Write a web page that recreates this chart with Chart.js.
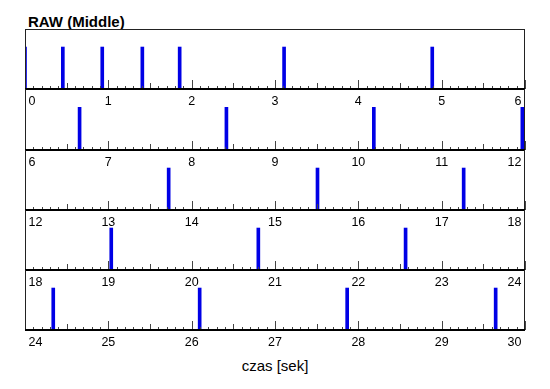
<!DOCTYPE html>
<html>
<head>
<meta charset="utf-8">
<script src="https://cdn.jsdelivr.net/npm/chart.js@4"></script>
<style>
  body { margin: 0; background: #fff; }
  #wrap { position: relative; width: 550px; height: 389px; }
  canvas { position: absolute; left: 0; }
  .txt { position: absolute; font-family: 'Liberation Sans', Arial, sans-serif; color: #000; white-space: nowrap; }
</style>
</head>
<body>
<div id="wrap">
  <div class="txt" style="left:28px;top:14px;font-size:15px;line-height:15px;font-weight:bold;">RAW (Middle)</div>
  <div class="txt" style="left:0;width:550px;top:358px;font-size:15px;line-height:15px;text-align:center;">czas [sek]</div>
</div>
<script>
// each row shows 6 seconds of the recording
const panelStarts = [0, 6, 12, 18, 24];
const panelSpan = 6;
// detected beats (seconds)
const beatTimes = [0.0, 0.454, 0.927, 1.408, 1.856, 3.109, 4.887,
                   6.655, 8.417, 10.186, 11.968,
                   13.724, 15.51, 17.264,
                   19.035, 20.80, 22.567,
                   24.339, 26.096, 27.866, 29.648];
const beatValue = 1;

// panel boxes in page pixels (top, bottom)
const panelTops = [29, 89, 150, 210, 270];
const panelBottoms = [89, 150, 210, 270, 330];

const framePlugin = {
  id: 'frame',
  afterDraw(chart, args, opts) {
    const { ctx, chartArea: a, scales: { x } } = chart;
    ctx.save();
    // small ticks pointing into the plot
    ctx.strokeStyle = '#444';
    ctx.lineWidth = 1;
    for (let j = 0; j <= 60; j++) {
      const t = x.min + j / 10;
      const px = Math.round(x.getPixelForValue(t)) + 0.5;
      const len = j % 10 === 0 ? 9 : (j % 5 === 0 ? 6 : 3);
      ctx.beginPath();
      ctx.moveTo(px, a.bottom);
      ctx.lineTo(px, a.bottom - len);
      ctx.stroke();
    }
    // box
    ctx.strokeStyle = '#222';
    ctx.beginPath();
    ctx.moveTo(a.left + 0.5, a.top);
    ctx.lineTo(a.left + 0.5, a.bottom);
    ctx.moveTo(a.right - 0.5, a.top);
    ctx.lineTo(a.right - 0.5, a.bottom);
    if (opts.top) {
      ctx.moveTo(a.left, a.top + 0.5);
      ctx.lineTo(a.right, a.top + 0.5);
    }
    ctx.stroke();
    ctx.strokeStyle = '#000';
    ctx.lineWidth = 2;
    ctx.beginPath();
    ctx.moveTo(a.left, a.bottom);
    ctx.lineTo(a.right, a.bottom);
    ctx.stroke();
    ctx.restore();
  }
};

Chart.defaults.font.family = "'Liberation Sans', Arial, sans-serif";
Chart.defaults.color = '#000';

const wrap = document.getElementById('wrap');

panelStarts.forEach((start, i) => {
  const canvas = document.createElement('canvas');
  const padTop = 2;
  const axisH = 20;
  const padBottom = 10;
  const h = panelBottoms[i] - panelTops[i] + padTop + axisH + padBottom;
  canvas.width = 550;
  canvas.height = h;
  canvas.style.top = (panelTops[i] - padTop) + 'px';
  canvas.style.width = '550px';
  canvas.style.height = h + 'px';
  wrap.appendChild(canvas);

  const points = beatTimes
    .filter(t => t >= start && t <= start + panelSpan)
    .map(t => ({ x: t, y: beatValue }));

  new Chart(canvas.getContext('2d'), {
    type: 'bar',
    data: {
      datasets: [{
        data: points,
        backgroundColor: '#0000e6',
        barThickness: 3,
        borderWidth: 0,
      }],
    },
    options: {
      responsive: false,
      animation: false,
      layout: { padding: { left: 25, right: 25, top: padTop, bottom: padBottom } },
      plugins: {
        legend: { display: false },
        tooltip: { enabled: false },
        frame: { top: i === 0 },
      },
      scales: {
        x: {
          type: 'linear',
          min: start,
          max: start + panelSpan,
          offset: false,
          grid: { display: false },
          border: { display: false },
          ticks: {
            stepSize: 1,
            align: 'inner',
            autoSkip: false,
            maxRotation: 0,
            padding: -3,
            font: { size: 12.5 },
            color: '#000',
            // pad the end labels so they sit just inside the frame
            callback: (v, idx, ticks) => {
              if (idx === 0) return ' ' + v;
              if (idx === ticks.length - 1) return v + ' ';
              return String(v);
            },
          },
          afterFit(s) { s.height = axisH; },
        },
        y: {
          display: false,
          min: 0,
          max: 1.43,
        },
      },
    },
    plugins: [framePlugin],
  });
});
</script>
</body>
</html>
